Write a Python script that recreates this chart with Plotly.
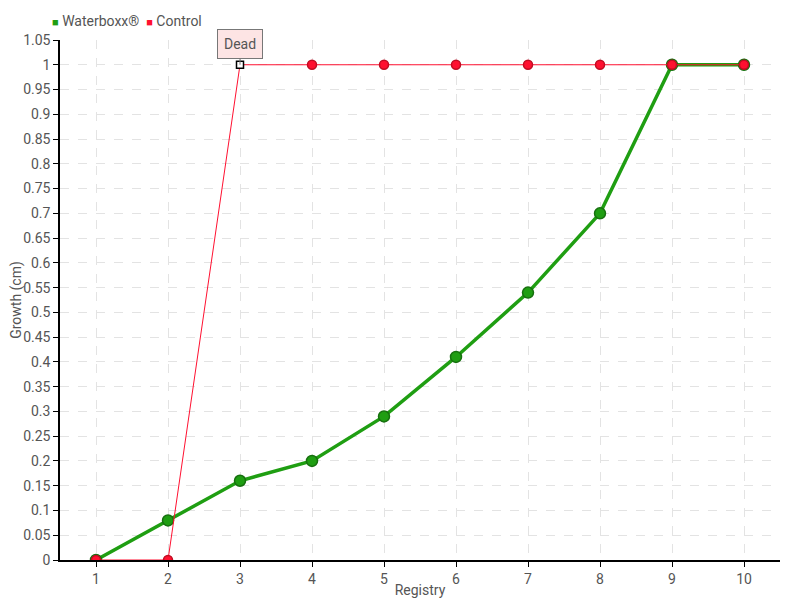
import plotly.graph_objects as go

registry = [1, 2, 3, 4, 5, 6, 7, 8, 9, 10]
waterboxx = [0, 0.08, 0.16, 0.2, 0.29, 0.41, 0.54, 0.7, 1, 1]
control = [0, 0, 1, 1, 1, 1, 1, 1, 1, 1]
dead_point = 3

FONT = "Roboto, sans-serif"
GREEN = "#1f9e12"
RED = "#ff1030"

fig = go.Figure()

fig.add_trace(
    go.Scatter(
        x=registry,
        y=waterboxx,
        mode="lines+markers",
        name="Waterboxx®",
        line=dict(color=GREEN, width=3.5),
        marker=dict(size=11, color=GREEN, opacity=1, line=dict(width=1.5, color="#17700f")),
        showlegend=False
    )
)

marker_colors = [RED] * len(registry)
marker_sizes = [9] * len(registry)
marker_lines = ["#c00c22"] * len(registry)
marker_symbols = ["circle"] * len(registry)
idx = registry.index(dead_point)
marker_colors[idx] = "white"
marker_lines[idx] = "black"
marker_symbols[idx] = "square"
marker_sizes[idx] = 7

fig.add_trace(
    go.Scatter(
        x=registry,
        y=control,
        mode="lines+markers",
        name="Control",
        line=dict(color=RED, width=1),
        marker=dict(size=marker_sizes, color=marker_colors, symbol=marker_symbols,
                    opacity=1, line=dict(width=1.5, color=marker_lines)),
        showlegend=False
    )
)

# compact legend like the original
legend_text = (
    f'<span style="color:{GREEN};font-size:11px">■</span> Waterboxx®  '
    f'<span style="color:{RED};font-size:11px">■</span> Control'
)
fig.add_annotation(
    x=0, y=1, xref="paper", yref="paper",
    xanchor="left", yanchor="middle",
    xshift=-10, yshift=19,
    text=legend_text,
    showarrow=False,
    font=dict(size=14, color="#555", family=FONT)
)

fig.add_annotation(
    x=dead_point,
    y=control[idx],
    text="Dead",
    showarrow=True,
    arrowhead=0,
    arrowwidth=1,
    arrowcolor="#777",
    ax=0,
    ay=-21,
    bgcolor="#fde4e4",
    bordercolor="#777",
    borderwidth=1,
    borderpad=6,
    font=dict(size=14, color="#555", family=FONT)
)

# the page body adds an 8px offset, so the figure is 8px smaller
fig.update_layout(
    width=792,
    height=592,
    plot_bgcolor="white",
    paper_bgcolor="white",
    margin=dict(l=52, r=20, t=32, b=40),
    font=dict(family=FONT, size=14, color="#555"),
    showlegend=False,
    xaxis=dict(
        title=dict(text="Registry", standoff=0, font=dict(size=14)),
        range=[0.5, 10.5],
        tickmode="array",
        tickvals=registry,
        automargin=False,
        showline=True,
        linecolor="black",
        linewidth=1.5,
        ticks="outside",
        ticklen=5,
        tickcolor="black",
        showgrid=True,
        gridcolor="#e3e3e3",
        griddash="dash",
        zeroline=False
    ),
    yaxis=dict(
        title=dict(text="Growth (cm)", standoff=10, font=dict(size=14)),
        range=[0, 1.05],
        dtick=0.05,
        tickformat="~g",
        automargin=False,
        showline=True,
        linecolor="black",
        linewidth=1.5,
        ticks="outside",
        ticklen=5,
        tickcolor="black",
        showgrid=True,
        gridcolor="#e3e3e3",
        griddash="dash",
        zeroline=False
    )
)

fig.write_html("out.html")
